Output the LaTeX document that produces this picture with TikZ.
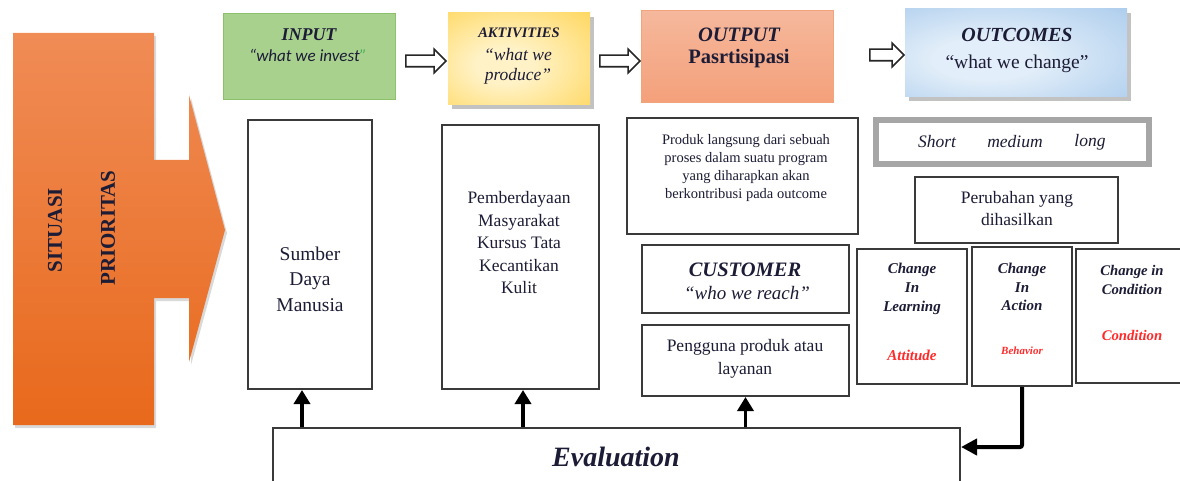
\documentclass[tikz,border=0pt]{standalone}
\usepackage{fontspec}
\setmainfont{Liberation Serif}
\newfontfamily\calfont{Carlito}
\usetikzlibrary{shapes.arrows,shadows,arrows.meta,calc}
\definecolor{ink}{HTML}{1C1C36}
\definecolor{edge}{HTML}{3A3A3A}
\definecolor{redtxt}{HTML}{FF2A2A}
\definecolor{grnfill}{HTML}{A9D18E}
\definecolor{grnedge}{HTML}{8CC06A}
\definecolor{grnq}{HTML}{3FAF5A}
\definecolor{orgtop}{HTML}{F08C56}
\definecolor{orgbot}{HTML}{E8691C}
\definecolor{saltop}{HTML}{F5B89C}
\definecolor{salbot}{HTML}{F4A07A}
\definecolor{saledge}{HTML}{F2A47C}
\definecolor{ylwin}{HTML}{FFF2C6}
\definecolor{ylwout}{HTML}{FFD24A}
\definecolor{bluin}{HTML}{E2EEF9}
\definecolor{bluout}{HTML}{98C0E8}
\definecolor{grayedge}{HTML}{A6A6A6}
\pgfdeclareradialshading{ylwrad}{\pgfpoint{-6bp}{-4bp}}{color(0bp)=(ylwin); color(10bp)=(ylwin); color(46bp)=(ylwout); color(80bp)=(ylwout)}
\pgfdeclareradialshading{blurad}{\pgfpoint{-8bp}{-4bp}}{color(0bp)=(bluin); color(12bp)=(bluin); color(52bp)=(bluout); color(80bp)=(bluout)}
\begin{document}
\begin{tikzpicture}[x=1pt,y=-1pt,
  box/.style={draw=edge, line width=2pt, fill=white, inner sep=0pt},
  txt/.style={text=ink, align=center, inner sep=0pt},
  hollow/.style={single arrow, draw=black!85, line width=1.6pt, fill=white,
    single arrow head extend=6pt, single arrow head indent=0pt,
    inner xsep=0pt, inner ysep=5pt, minimum height=#1},
  hollow/.default=40pt,
  uparr/.style={draw=black, line width=3.5pt, -{Triangle[length=14pt,width=16pt]}},
  elbow/.style={draw=black, line width=4pt, rounded corners=2pt, -{Triangle[length=16pt,width=16pt]}},
  sh/.style={drop shadow={shadow xshift=4pt, shadow yshift=-4pt, opacity=0.4, fill=black!60}},
  osh/.style={drop shadow={shadow xshift=2pt, shadow yshift=-3pt, opacity=0.25, fill=black!60}},
]
\useasboundingbox (0,0) rectangle (1180,481);

% big orange arrow
\path[draw=none, top color=orgtop, bottom color=orgbot, osh]
  (13,33) -- (154,33) -- (154,160) -- (189,160) -- (189,95) -- (225,230)
  -- (189,362) -- (189,298) -- (154,298) -- (154,425) -- (13,425) -- cycle;
\node[txt, rotate=90, font=\fontsize{21}{24}\selectfont\bfseries] (sit) at (55,230) {SITUASI};
\node[txt, rotate=90, font=\fontsize{21}{24}\selectfont\bfseries] (pri) at (108,228) {PRIORITAS};

% header boxes
\node[draw=grnedge, line width=1pt, fill=grnfill, minimum width=172pt, minimum height=86pt, inner sep=0pt] (inp) at (309,57) {};
\node[txt, font=\fontsize{18}{20}\selectfont\bfseries\itshape] (inpA) at (309,35) {INPUT};
\node[txt, font=\calfont\fontsize{17}{20}\selectfont\itshape] (inpB) at (308,55) {“what we invest{\color{grnq}”}};

\node[sh, shading=ylwrad, minimum width=142pt, minimum height=92pt, inner sep=0pt] (akt) at (519,59) {};
\node[txt, font=\fontsize{14.5}{16}\selectfont\bfseries\itshape] (aktA) at (519,33) {AKTIVITIES};
\node[txt, font=\fontsize{17.5}{20}\selectfont\itshape] (aktB) at (518,66) {“what we\\produce”};

\node[draw=saledge, line width=1pt, top color=saltop, bottom color=salbot, minimum width=192pt, minimum height=92pt, inner sep=0pt] (outp) at (737,57) {};
\node[txt, font=\fontsize{20.5}{22}\selectfont\bfseries\itshape] (outpA) at (739,35) {OUTPUT};
\node[txt, font=\fontsize{20.5}{22}\selectfont\bfseries] (outpB) at (739,59) {Pasrtisipasi};

\node[sh, shading=blurad, minimum width=222pt, minimum height=88pt, inner sep=0pt] (outc) at (1016,53) {};
\node[txt, font=\fontsize{20}{22}\selectfont\bfseries\itshape] (outcA) at (1017,35) {OUTCOMES};
\node[txt, font=\fontsize{19.5}{22}\selectfont] (outcB) at (1017,64) {“what we change”};

\node[hollow] (h1) at (423,61) {};
\node[hollow] (h2) at (617,61) {};
\node[hollow=34pt] (h3) at (884,55) {};

% lower boxes
\node[box, minimum width=124pt, minimum height=269pt] (sdm) at (310,254.5) {};
\node[txt, font=\fontsize{19.5}{25.5}\selectfont] (sdmT) at (310,279) {Sumber\\Daya\\Manusia};

\node[box, minimum width=157pt, minimum height=264pt] (pemb) at (520,257) {};
\node[txt, font=\fontsize{17.5}{22.5}\selectfont] (pembT) at (519,243) {Pemberdayaan\\Masyarakat\\Kursus Tata\\Kecantikan\\Kulit};

\node[box, minimum width=231pt, minimum height=116pt] (prod) at (742.5,176) {};
\node[txt, font=\fontsize{14.5}{18.3}\selectfont] (prodT) at (746,168) {Produk langsung dari sebuah\\proses dalam suatu program\\yang diharapkan akan\\berkontribusi pada outcome};

\node[box, minimum width=207pt, minimum height=68pt] (cust) at (745.5,279) {};
\node[txt, font=\fontsize{20.5}{22}\selectfont\bfseries\itshape] (custA) at (745,270) {CUSTOMER};
\node[txt, font=\fontsize{19}{22}\selectfont\itshape] (custB) at (747,293) {“who we reach”};

\node[box, minimum width=207pt, minimum height=71pt] (peng) at (745.5,360.5) {};
\node[txt, font=\fontsize{17.5}{23}\selectfont] (pengT) at (745,359) {Pengguna produk atau\\layanan};

\node[draw=grayedge, line width=6pt, fill=white, inner sep=0pt, minimum width=273pt, minimum height=44pt] (sml) at (1012.5,142) {};
\node[txt, font=\fontsize{17.5}{20}\selectfont\itshape] (smlA) at (937,142) {Short};
\node[txt, font=\fontsize{17.5}{20}\selectfont\itshape] (smlB) at (1015,142) {medium};
\node[txt, font=\fontsize{17.5}{20}\selectfont\itshape] (smlC) at (1090,142) {long};

\node[box, minimum width=203pt, minimum height=66pt] (perub) at (1016.5,210) {};
\node[txt, font=\fontsize{17.5}{22}\selectfont] (perubT) at (1017,209) {Perubahan yang\\dihasilkan};

\node[box, minimum width=110pt, minimum height=135pt] (cl) at (912,316.5) {};
\node[txt, font=\fontsize{15}{19}\selectfont\bfseries\itshape] (clT) at (912,289) {Change\\In\\Learning};
\node[txt, text=redtxt, font=\fontsize{15}{19}\selectfont\bfseries\itshape] (clR) at (912,355) {Attitude};

\node[box, minimum width=100pt, minimum height=139pt] (ca) at (1022,316.5) {};
\node[txt, font=\fontsize{15}{18.5}\selectfont\bfseries\itshape] (caT) at (1022,287) {Change\\In\\Action};
\node[txt, text=redtxt, font=\fontsize{11}{13}\selectfont\bfseries\itshape] (caR) at (1022,351) {Behavior};

\node[box, minimum width=112pt, minimum height=134pt] (cc) at (1132,316) {};
\node[txt, font=\fontsize{14.7}{19}\selectfont\bfseries\itshape] (ccT) at (1132,280) {Change in\\Condition};
\node[txt, text=redtxt, font=\fontsize{14.7}{19}\selectfont\bfseries\itshape] (ccR) at (1132,335) {Condition};

\node[box, minimum width=687pt, minimum height=62pt] (eval) at (616.5,459) {};
\node[txt, font=\fontsize{28}{30}\selectfont\bfseries\itshape] (evalT) at (616,457) {Evaluation};

% connectors
\coordinate (s1) at ($(sdm.south)+(-8,0)$);
\coordinate (s2) at ($(pemb.south)+(3,0)$);
\coordinate (e4) at ($(eval.north east)+(0,20)$);
\draw[uparr] (s1 |- eval.north) -- (s1);
\draw[uparr] (s2 |- eval.north) -- (s2);
\draw[uparr] (peng.south |- eval.north) -- (peng.south);
\draw[elbow] (ca.south) |- (e4);
\end{tikzpicture}
\end{document}
